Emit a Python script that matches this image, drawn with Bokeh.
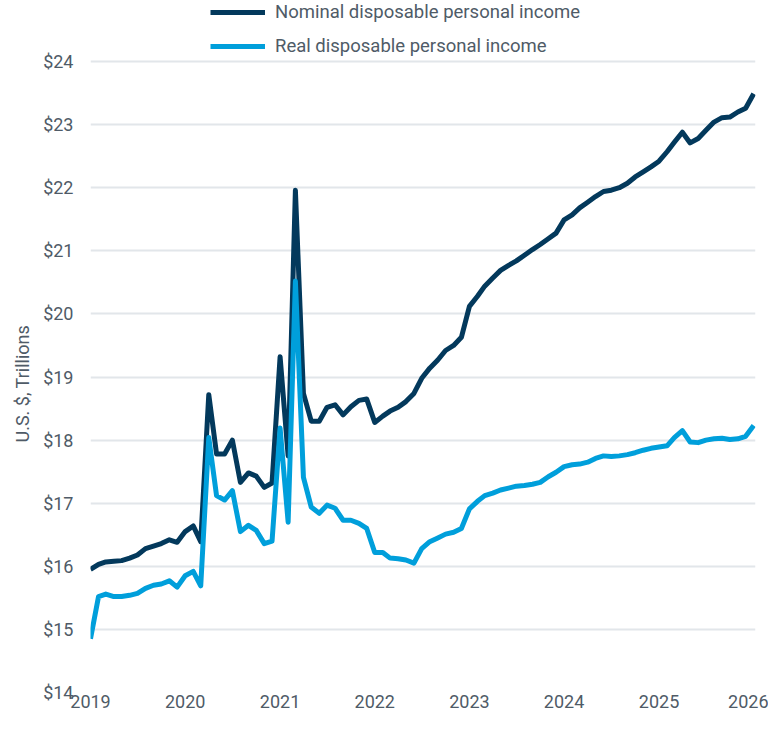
import pandas as pd
from bokeh.plotting import figure
from bokeh.models import (FixedTicker, NumeralTickFormatter, DatetimeTickFormatter,
                          Legend, LegendItem, Range1d, ColumnDataSource, Title)
from bokeh.embed import file_html
from bokeh.resources import INLINE

# Monthly observations, Jan 2019 - Jan 2026 (U.S. $, trillions, annual rate)
dates = pd.date_range("2019-01-01", "2026-01-01", freq="MS")

nominal = [
    15.95, 16.03, 16.07, 16.08, 16.09, 16.13, 16.18, 16.28, 16.32, 16.36, 16.42, 16.38,  # 2019
    16.55, 16.64, 16.39, 18.72, 17.78, 17.78, 18.00, 17.33, 17.48, 17.43, 17.25, 17.32,  # 2020
    19.32, 17.75, 21.96, 18.74, 18.30, 18.30, 18.52, 18.56, 18.40, 18.53, 18.63, 18.65,  # 2021
    18.28, 18.38, 18.46, 18.52, 18.61, 18.74, 18.98, 19.14, 19.27, 19.42, 19.50, 19.63,  # 2022
    20.12, 20.28, 20.44, 20.57, 20.69, 20.77, 20.84, 20.93, 21.02, 21.10, 21.19, 21.28,  # 2023
    21.49, 21.57, 21.68, 21.77, 21.86, 21.94, 21.96, 22.00, 22.07, 22.17, 22.25, 22.33,  # 2024
    22.42, 22.57, 22.72, 22.88, 22.71, 22.78, 22.91, 23.04, 23.11, 23.12, 23.20, 23.26,  # 2025
    23.49,                                                                              # 2026
]

real = [
    14.85, 15.52, 15.56, 15.52, 15.52, 15.54, 15.57, 15.65, 15.70, 15.72, 15.77, 15.67,  # 2019
    15.85, 15.92, 15.69, 18.04, 17.12, 17.05, 17.20, 16.55, 16.65, 16.57, 16.36, 16.40,  # 2020
    18.19, 16.70, 20.52, 17.41, 16.94, 16.84, 16.97, 16.92, 16.73, 16.73, 16.68, 16.60,  # 2021
    16.22, 16.22, 16.13, 16.12, 16.10, 16.05, 16.28, 16.39, 16.45, 16.51, 16.54, 16.60,  # 2022
    16.91, 17.03, 17.12, 17.16, 17.21, 17.24, 17.27, 17.28, 17.30, 17.33, 17.42, 17.49,  # 2023
    17.58, 17.61, 17.62, 17.65, 17.71, 17.75, 17.74, 17.75, 17.77, 17.80, 17.84, 17.87,  # 2024
    17.89, 17.91, 18.04, 18.15, 17.97, 17.96, 18.00, 18.02, 18.03, 18.01, 18.02, 18.06,  # 2025
    18.23,                                                                              # 2026
]

year_ticks = [2019, 2020, 2021, 2022, 2023, 2024, 2025, 2026]
value_ticks = [14, 15, 16, 17, 18, 19, 20, 21, 22, 23, 24]
series_names = ["Nominal disposable personal income", "Real disposable personal income"]
y_title = "U.S. $, Trillions"

NAVY = "#03395c"
BLUE = "#009fdb"
TEXT = "#4f5b67"
GRID = "#e2e6ea"
FONT = "Roboto"

src = ColumnDataSource(dict(date=dates, nominal=nominal, real=real))

# the frame reaches the top of the canvas so that the legend can sit above $24
p = figure(width=768, height=715, x_axis_type="datetime",
           output_backend="svg", toolbar_location=None,
           x_range=Range1d(pd.Timestamp("2019-01-01"), pd.Timestamp("2026-01-08")),
           y_range=Range1d(14, 24.967),
           min_border_left=90, min_border_right=13,
           min_border_top=0, min_border_bottom=23)
p.outline_line_color = None
p.background_fill_color = "white"
p.border_fill_color = "white"

r_nom = p.line("date", "nominal", source=src, line_color=NAVY, line_width=5,
               line_join="round")
r_real = p.line("date", "real", source=src, line_color=BLUE, line_width=5,
                line_join="round")

xa = p.xaxis[0]
xa.ticker = FixedTicker(ticks=[pd.Timestamp(f"{y}-01-01").timestamp() * 1000 for y in year_ticks])
xa.formatter = DatetimeTickFormatter(years="%Y", months="%Y", days="%Y", hours="%Y")
ya = p.yaxis[0]
ya.ticker = FixedTicker(ticks=value_ticks)
ya.formatter = NumeralTickFormatter(format="$0")
for ax in (xa, ya):
    ax.axis_line_color = None
    ax.major_tick_line_color = None
    ax.minor_tick_line_color = None
    ax.major_tick_out = 0
    ax.major_tick_in = 0
    ax.major_label_text_font = FONT
    ax.major_label_text_font_size = "18px"
    ax.major_label_text_color = TEXT
xa.major_label_standoff = 2
ya.major_label_standoff = 17

# vertical axis title, placed along the $14-$24 span
p.add_layout(Title(text=y_title, align="left", offset=250, standoff=15,
                   text_font=FONT, text_font_size="18px", text_font_style="normal",
                   text_color=TEXT), "left")

p.xgrid.grid_line_color = None
p.ygrid.grid_line_color = GRID
p.ygrid.grid_line_width = 2

legend = Legend(items=[LegendItem(label=series_names[0], renderers=[r_nom]),
                       LegendItem(label=series_names[1], renderers=[r_real])],
                location=(120, 635), orientation="vertical",
                glyph_width=55, glyph_height=16, label_height=16, label_standoff=10,
                spacing=12, padding=0, margin=0,
                border_line_alpha=0, background_fill_alpha=0,
                label_text_font=FONT, label_text_font_size="18.5px",
                label_text_color=TEXT)
p.add_layout(legend, "center")

open("out.html", "w").write(file_html(p, INLINE))
